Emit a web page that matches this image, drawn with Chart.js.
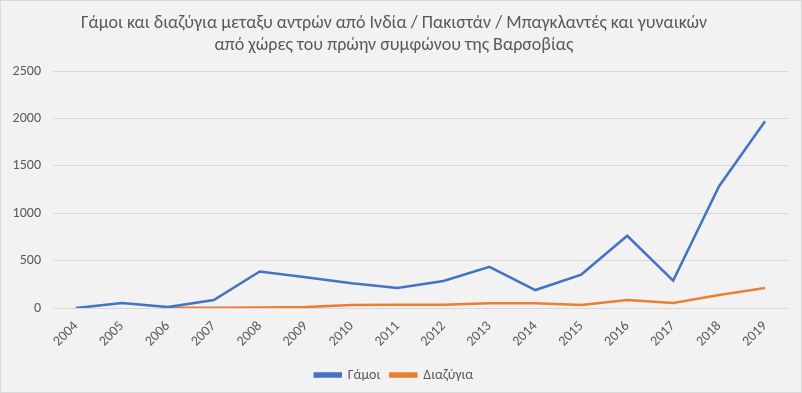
<!DOCTYPE html>
<html>
<head>
<meta charset="utf-8">
<script src="https://cdn.jsdelivr.net/npm/chart.js@4"></script>
<style>
html,body{margin:0;padding:0;background:#f2f2f2;}
#wrap{width:802px;height:393px;position:relative;}
</style>
</head>
<body>
<div id="wrap"><canvas id="c" width="802" height="393"></canvas></div>
<script>
const years = ['2004','2005','2006','2007','2008','2009','2010','2011','2012','2013','2014','2015','2016','2017','2018','2019'];
const gamoi = [0,53,10,85,385,325,261,212,286,434,190,353,762,289,1285,1970];
const diazygia = [null,null,3,3,5,10,32,35,35,50,50,32,85,53,138,212];
const yTicks = [0,500,1000,1500,2000,2500];
const titleLines = ['Γάμοι και διαζύγια μεταξυ αντρών από Ινδία / Πακιστάν / Μπαγκλαντές και γυναικών','από χώρες του πρώην συμφώνου της Βαρσοβίας'];

const FONT = 'Carlito, "Liberation Sans Narrow", Lato, sans-serif';
const bg = {
  id:'bg',
  beforeDraw(chart){
    const ctx = chart.ctx;
    ctx.save();
    ctx.fillStyle = '#f2f2f2';
    ctx.fillRect(0,0,chart.width,chart.height);
    ctx.strokeStyle = '#d9d9d9';
    ctx.lineWidth = 1;
    ctx.strokeRect(0.5,0.5,chart.width-1,chart.height-1);
    ctx.restore();
  }
};

new Chart(document.getElementById('c'), {
  type:'line',
  data:{
    labels: years,
    datasets:[
      {label:'Γάμοι', data:gamoi, borderColor:'#4472c4', backgroundColor:'#4472c4', borderWidth:2.5, pointRadius:0, tension:0},
      {label:'Διαζύγια', data:diazygia, borderColor:'#ed7d31', backgroundColor:'#ed7d31', borderWidth:2.5, pointRadius:0, tension:0}
    ]
  },
  options:{
    responsive:false,
    animation:false,
    layout:{padding:{left:0,right:14,top:8,bottom:1}},
    plugins:{
      title:{display:true, text:titleLines, color:'#595959', font:{family:FONT,size:18,weight:'normal',lineHeight:1.25}, padding:{top:4,bottom:14}},
      legend:{position:'bottom', labels:{color:'#595959', font:{family:FONT,size:14}, boxWidth:26, boxHeight:3, padding:10}},
      tooltip:{enabled:false}
    },
    scales:{
      x:{
        offset:true,
        grid:{display:false},
        border:{display:false},
        afterFit(s){ s.height += 6; },
        ticks:{color:'#595959', font:{family:FONT,size:14}, minRotation:45, maxRotation:45, padding:2}
      },
      y:{
        min:0, max:2500,
        afterBuildTicks(s){ s.ticks = yTicks.map(v=>({value:v})); },
        afterFit(s){ s.width = 53; },
        grid:{color:'#d9d9d9', drawTicks:false},
        border:{display:false},
        ticks:{color:'#595959', font:{family:FONT,size:14}, padding:12, callback:v=>String(v)}
      }
    }
  },
  plugins:[bg]
});
</script>
</body>
</html>
